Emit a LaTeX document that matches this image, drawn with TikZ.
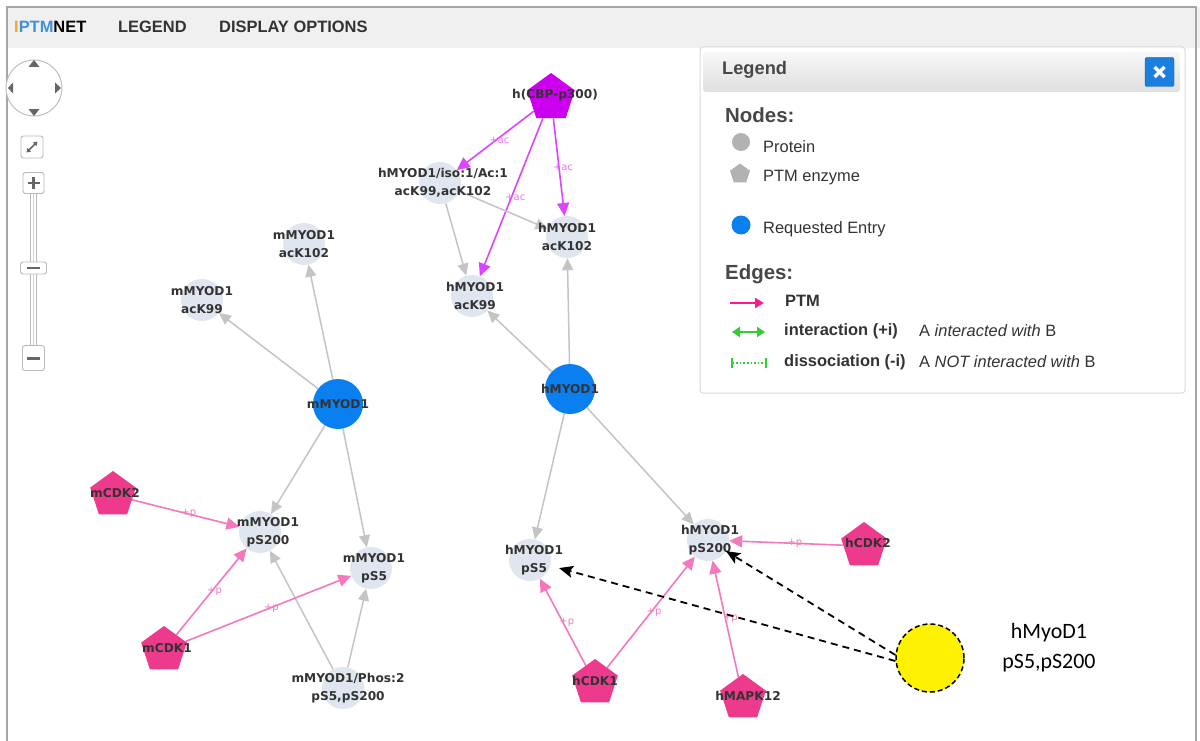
\documentclass[tikz,border=0pt]{standalone}
\usepackage{fontspec}
\setmainfont{Liberation Sans}
\newfontfamily\gfont{DejaVu Sans}
\newfontfamily\cfont{Carlito}
\usetikzlibrary{shapes.geometric,arrows.meta}
\definecolor{protfill}{HTML}{DFE6EF}
\definecolor{reqblue}{HTML}{0A7FF0}
\definecolor{enzpink}{HTML}{EE3A8C}
\definecolor{enzpurple}{HTML}{CC00EE}
\definecolor{ptmpink}{HTML}{F578BE}
\definecolor{acpurple}{HTML}{DD44FF}
\definecolor{edgegray}{HTML}{C4C4C4}
\definecolor{labeltext}{HTML}{333333}
\definecolor{iorange}{HTML}{F5A623}
\definecolor{iblue}{HTML}{3D8FE0}
\definecolor{barbg}{HTML}{F0F0F0}
\definecolor{hotpink}{HTML}{FF1A8C}
\definecolor{lgreen}{HTML}{33CC33}
\definecolor{closeblue}{HTML}{1A7FE0}
\pgfdeclarelayer{bg}
\pgfdeclarelayer{canvas}
\pgfsetlayers{canvas,bg,main}
\begin{document}
\begin{tikzpicture}[x=1bp,y=-1bp,
  prot/.style={circle, fill=protfill, minimum size=42bp, inner sep=0pt},
  req/.style={circle, fill=reqblue, minimum size=50bp, inner sep=0pt},
  enz/.style={regular polygon, regular polygon sides=5, fill=enzpink, minimum size=48bp, inner sep=0pt},
  lbl/.style={font=\gfont\bfseries\fontsize{12.2}{18}\selectfont, text=labeltext, align=center, inner sep=0pt},
  gedge/.style={draw=edgegray, line width=1.5bp, -{Triangle[length=12bp,width=11bp]}},
  pedge/.style={draw=ptmpink, line width=1.6bp, -{Triangle[length=13bp,width=12bp]}},
  aedge/.style={draw=acpurple, line width=1.6bp, -{Triangle[length=13bp,width=12bp]}},
  plbl/.style={font=\gfont\fontsize{10}{10}\selectfont, text=ptmpink, inner sep=0pt},
  albl/.style={font=\gfont\fontsize{10}{10}\selectfont, text=acpurple!75, inner sep=0pt},
  dedge/.style={draw=black, line width=1.8bp, dash pattern=on 7bp off 5bp, -{Stealth[length=14bp,width=12bp,inset=3bp]}},
  menu/.style={font=\bfseries\fontsize{16.5}{18}\selectfont, text=labeltext, anchor=west, inner sep=0pt},
  ltext/.style={font=\fontsize{16.5}{18}\selectfont, text=labeltext, anchor=west, inner sep=0pt},
  ltextb/.style={font=\bfseries\fontsize{16.5}{18}\selectfont, text=labeltext, anchor=west, inner sep=0pt},
  lhead/.style={font=\bfseries\fontsize{20.5}{22}\selectfont, text=labeltext!90, anchor=west, inner sep=0pt},
  ctrl/.style={draw=gray!55, fill=white, rounded corners=2.5bp, line width=0.9bp, inner sep=0pt},
  ctrlmark/.style={draw=gray!80!black, line width=2.6bp}
]
\useasboundingbox (0,0) rectangle (1200,741);
% frame and top bar
\begin{pgfonlayer}{canvas}
\fill[white] (0,0) rectangle (1200,741);
\fill[barbg] (7,7) rectangle (1200,48);
\end{pgfonlayer}
\draw[gray!70, line width=1.5bp] (7,745) -- (7,7) -- (1196,7) -- (1196,745);
\node[menu] (brand) at (14,27) {\textcolor{iorange}{I}\textcolor{iblue}{PTM}\textcolor{black}{NET}};
\node[menu] (mlegend) at (118,27) {LEGEND};
\node[menu] (mdisp) at (219,27) {DISPLAY OPTIONS};

% navigation controls
\node[circle, draw=gray!50, fill=white, line width=1bp, minimum size=56bp] (nav) at (34,88) {};
\fill[gray!80!black] (28.5,67) -- (39.5,67) -- (34,60) -- cycle;
\fill[gray!80!black] (28.5,109) -- (39.5,109) -- (34,116) -- cycle;
\fill[gray!80!black] (13,82.5) -- (13,93.5) -- (8,88) -- cycle;
\fill[gray!80!black] (55,82.5) -- (55,93.5) -- (61,88) -- cycle;
\node[ctrl, minimum width=22bp, minimum height=22bp] (fitbtn) at (32,147) {};
\draw[gray!80!black, line width=1.6bp, {Triangle[length=4bp,width=5bp]}-{Triangle[length=4bp,width=5bp]}] (26.5,152.5) -- (37.5,141.5);
\draw[gray!55, fill=white, line width=0.9bp] (30.5,193) rectangle (36.5,347);
\draw[gray!35, line width=0.6bp] (33.5,193) -- (33.5,347);
\node[ctrl, minimum width=21bp, minimum height=21bp] (plusbtn) at (33.5,183) {};
\draw[ctrlmark] (27.5,183) -- (39.5,183) (33.5,177) -- (33.5,189);
\node[ctrl, minimum width=26bp, minimum height=12bp] (handle) at (33.5,268) {};
\draw[ctrlmark] (27,268) -- (40,268);
\node[ctrl, minimum width=22bp, minimum height=25bp] (minusbtn) at (33.5,358) {};
\draw[ctrlmark] (27,358.5) -- (40,358.5);

% legend panel
\draw[gray!30, fill=white, rounded corners=3bp, line width=1bp] (700,47) rectangle (1185,393);
\shade[top color=gray!6, bottom color=gray!25, rounded corners=3bp] (703,52) rectangle (1180,92);
\node[font=\bfseries\fontsize{18.3}{20}\selectfont, text=labeltext!90, anchor=west, inner sep=0pt] (legtitle) at (722,70) {Legend};
\node[draw=closeblue!70!black, fill=closeblue, rounded corners=2bp, minimum size=29bp, inner sep=0pt] (closebtn) at (1159.5,72) {};
\draw[white, line width=3.2bp] (1154.5,67) -- (1164.5,77) (1154.5,77) -- (1164.5,67);
\node[lhead] (lnodes) at (725,115) {Nodes:};
\node[circle, fill=gray!60, minimum size=18bp, inner sep=0pt] (lgprot) at (741,142) {};
\node[ltext] (ltprot) at (763,147) {Protein};
\node[regular polygon, regular polygon sides=5, fill=gray!60, minimum size=21bp, inner sep=0pt] (lgenz) at (740,174) {};
\node[ltext] (ltenz) at (763,178) {PTM enzyme};
\node[circle, fill=reqblue, minimum size=19bp, inner sep=0pt] (lgreq) at (741,225) {};
\node[ltext] (ltreq) at (763,229) {Requested Entry};
\node[lhead] (ledges) at (725,274) {Edges:};
\coordinate (pa1) at (730,303); \coordinate (pa2) at (764,303);
\draw[hotpink, line width=2bp, -{Triangle[length=9bp,width=10bp]}] (pa1) -- (pa2);
\node[ltextb] (ltptm) at (785,301) {PTM};
\coordinate (ia1) at (732,332); \coordinate (ia2) at (765,332);
\draw[lgreen, line width=2bp, {Triangle[length=8bp,width=10bp]}-{Triangle[length=8bp,width=10bp]}] (ia1) -- (ia2);
\node[ltextb] (ltint) at (784,331) {interaction (+i)};
\node[ltext] (ltinta) at (919,331) {A \textit{interacted with} B};
\coordinate (da1) at (731,363); \coordinate (da2) at (767,363);
\draw[lgreen, line width=1.6bp, dash pattern=on 1.6bp off 2bp, {Bar[width=10bp,line width=2bp]}-{Bar[width=10bp,line width=2bp]}] (da1) -- (da2);
\node[ltextb] (ltdis) at (784,362) {dissociation (-i)};
\node[ltext] (ltdisa) at (919,362) {A \textit{NOT interacted with} B};

% graph nodes
\node[enz, fill=enzpurple, minimum size=50bp] (hCBP) at (551,98) {};
\node[lbl] (hCBPl) at (555,95) {h(CBP-p300)};
\node[prot, label={[lbl, xshift=3bp]center:{hMYOD1/iso:1/Ac:1\\acK99,acK102}}] (iso) at (440,183) {};
\node[prot, label={[lbl]center:{hMYOD1\\acK102}}] (hK102) at (567,237) {};
\node[prot, label={[lbl, xshift=3bp]center:{hMYOD1\\acK99}}] (hK99) at (472,296) {};
\node[req, label={[lbl]center:{hMYOD1}}] (hMYOD) at (570,389) {};
\node[prot, label={[lbl]center:{mMYOD1\\acK102}}] (mK102) at (304,244) {};
\node[prot, label={[lbl]center:{mMYOD1\\acK99}}] (mK99) at (202,300) {};
\node[req, label={[lbl]center:{mMYOD1}}] (mMYOD) at (338,404) {};
\node[prot, label={[lbl, xshift=8bp]center:{mMYOD1\\pS200}}] (mS200) at (260,532) {};
\node[prot, label={[lbl, xshift=3bp]center:{mMYOD1\\pS5}}] (mS5) at (371,568) {};
\node[prot, label={[lbl, xshift=5bp]center:{mMYOD1/Phos:2\\pS5,pS200}}] (mPhos) at (343,688) {};
\node[enz] (mCDK2) at (113,495) {};
\node[lbl] (mCDK2l) at (115,493) {mCDK2};
\node[enz] (mCDK1) at (164,650) {};
\node[lbl] (mCDK1l) at (167,648) {mCDK1};
\node[prot, label={[lbl, xshift=4bp]center:{hMYOD1\\pS5}}] (hS5) at (530,560) {};
\node[prot, label={[lbl, xshift=2bp]center:{hMYOD1\\pS200}}] (hS200) at (708,540) {};
\node[enz] (hCDK2) at (864,546) {};
\node[lbl] (hCDK2l) at (868,543) {hCDK2};
\node[enz] (hCDK1) at (595,683) {};
\node[lbl] (hCDK1l) at (595,681) {hCDK1};
\node[enz] (hMAPK) at (743,698) {};
\node[lbl] (hMAPKl) at (748,696) {hMAPK12};
\node[circle, fill=yellow, draw=black, line width=1.5bp, dash pattern=on 5bp off 3bp, minimum size=68bp, inner sep=0pt] (yel) at (930,658) {};
\node[font=\cfont\fontsize{22}{30}\selectfont, align=center, inner sep=0pt] (yell) at (1049,648) {hMyoD1\\pS5,pS200};

% edges
\begin{pgfonlayer}{bg}
\draw[aedge] (hCBP) -- (iso) node[albl, pos=0.5, xshift=4bp] (a1) {+ac};
\draw[aedge] (hCBP) -- (hK99) node[albl, pos=0.5, xshift=4bp] (a2) {+ac};
\draw[aedge] (hCBP) -- (hK102) node[albl, pos=0.5, xshift=4bp] (a3) {+ac};
\draw[gedge] (iso) -- (hK102);
\draw[gedge] (iso) -- (hK99);
\draw[gedge] (hMYOD) -- (hK99);
\draw[gedge] (hMYOD) -- (hK102);
\draw[gedge] (hMYOD) -- (hS5);
\draw[gedge] (hMYOD) -- (hS200);
\draw[gedge] (mMYOD) -- (mK99);
\draw[gedge] (mMYOD) -- (mK102);
\draw[gedge] (mMYOD) -- (mS200);
\draw[gedge] (mMYOD) -- (mS5);
\draw[gedge] (mPhos) -- (mS200);
\draw[gedge] (mPhos) -- (mS5);
\draw[pedge] (mCDK2) -- (mS200) node[plbl, pos=0.5, xshift=3bp] (p1) {+p};
\draw[pedge] (mCDK1) -- (mS200) node[plbl, pos=0.5, xshift=3bp] (p2) {+p};
\draw[pedge] (mCDK1) -- (mS5) node[plbl, pos=0.5, xshift=3bp] (p3) {+p};
\draw[pedge] (hCDK2) -- (hS200) node[plbl, pos=0.45, xshift=3bp] (p4) {+p};
\draw[pedge] (hCDK1) -- (hS5) node[plbl, pos=0.5, xshift=4bp] (p5) {+p};
\draw[pedge] (hCDK1) -- (hS200) node[plbl, pos=0.5, xshift=3bp] (p6) {+p};
\draw[pedge] (hMAPK) -- (hS200) node[plbl, pos=0.5, xshift=5bp] (p7) {+p};
\end{pgfonlayer}
\draw[dedge, shorten >=9bp] (yel.185) -- (hS5);
\draw[dedge] (yel.175) -- (hS200);
\end{tikzpicture}
\end{document}
